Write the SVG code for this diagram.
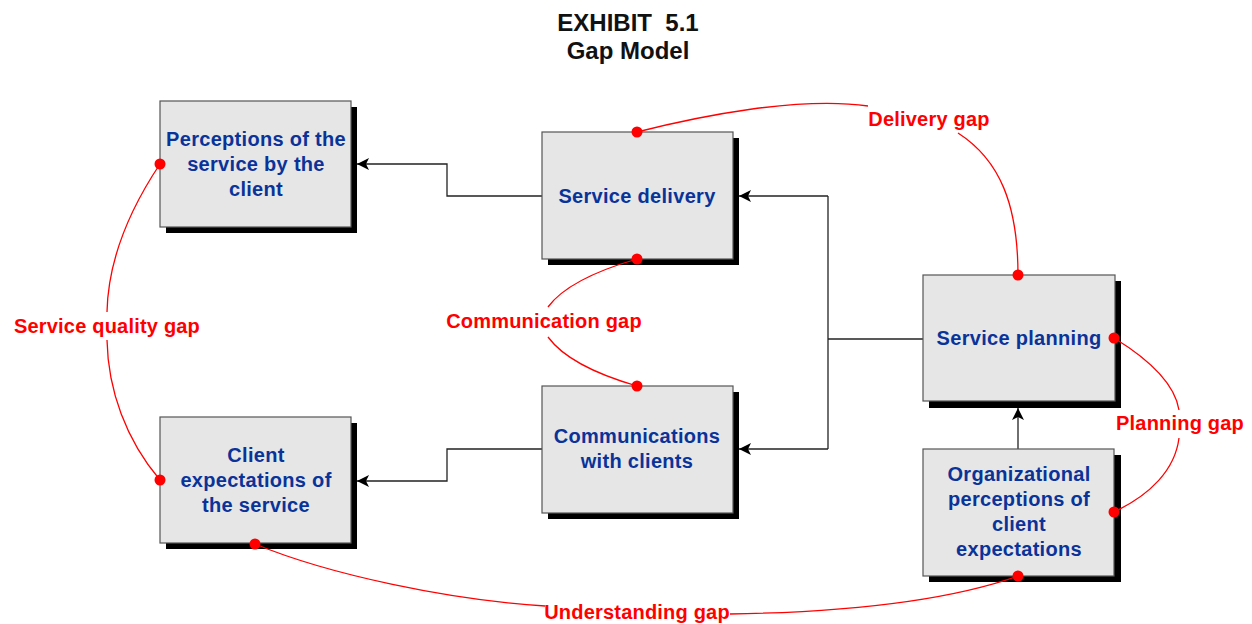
<svg xmlns="http://www.w3.org/2000/svg" width="1252" height="624" viewBox="0 0 1252 624">
  <style>
    .title { font-family: "Liberation Sans", Arial, sans-serif; font-weight: bold; font-size: 24px; fill: #111; text-anchor: middle; }
    .shadow { fill: #000; }
    .box { fill: #e6e6e6; stroke: #555; stroke-width: 1.2; }
    .label { font-family: "Liberation Sans", Arial, sans-serif; font-weight: bold; font-size: 20px; fill: #0a3399; text-anchor: middle; letter-spacing: 0.3px; }
    .flow { fill: none; stroke: #222; stroke-width: 1.3; }
    .gap { fill: none; stroke: #ff0000; stroke-width: 1.3; }
    .dot { fill: #ff0000; }
    .gaptext { font-family: "Liberation Sans", Arial, sans-serif; font-weight: bold; font-size: 20px; fill: #ff0000; text-anchor: middle; letter-spacing: 0.2px; }
  </style>
  <defs>
    <marker id="arrow" viewBox="0 0 12 12" refX="12" refY="6" markerWidth="12" markerHeight="12" markerUnits="userSpaceOnUse" orient="auto">
      <path d="M0,0 L12,6 L0,12 L3,6 z" fill="#000"/>
    </marker>
  </defs>

  <rect width="1252" height="624" fill="#fff"/>

  <!-- heading -->
  <g id="title">
    <text class="title" x="628" y="31" xml:space="preserve">EXHIBIT  5.1</text>
    <text class="title" x="628" y="59">Gap Model</text>
  </g>

  <!-- flow connectors -->
  <g id="connectors">
    <path class="flow" d="M542,196 H447 V164 H357" marker-end="url(#arrow)"/>
    <path class="flow" d="M542,449 H447 V481 H357" marker-end="url(#arrow)"/>
    <path class="flow" d="M923,339 H828"/>
    <path class="flow" d="M828,196 V449"/>
    <path class="flow" d="M828,196 H739" marker-end="url(#arrow)"/>
    <path class="flow" d="M828,449 H739" marker-end="url(#arrow)"/>
    <path class="flow" d="M1018,449 V408" marker-end="url(#arrow)"/>
  </g>

  <!-- nodes -->
  <g id="perceptions">
    <rect class="shadow" x="166" y="107" width="191" height="126"/>
    <rect class="box" x="160" y="101" width="191" height="126"/>
    <text class="label" x="256" y="146">Perceptions of the</text>
    <text class="label" x="256" y="171">service by the</text>
    <text class="label" x="256" y="196">client</text>
  </g>
  <g id="delivery">
    <rect class="shadow" x="548" y="138" width="191" height="127"/>
    <rect class="box" x="542" y="132" width="191" height="127"/>
    <text class="label" x="637" y="203">Service delivery</text>
  </g>
  <g id="communications">
    <rect class="shadow" x="548" y="392" width="191" height="127"/>
    <rect class="box" x="542" y="386" width="191" height="127"/>
    <text class="label" x="637" y="443">Communications</text>
    <text class="label" x="637" y="468">with clients</text>
  </g>
  <g id="expectations">
    <rect class="shadow" x="166" y="423" width="191" height="126"/>
    <rect class="box" x="160" y="417" width="191" height="126"/>
    <text class="label" x="256" y="462">Client</text>
    <text class="label" x="256" y="487">expectations of</text>
    <text class="label" x="256" y="512">the service</text>
  </g>
  <g id="planning">
    <rect class="shadow" x="929" y="281" width="192" height="127"/>
    <rect class="box" x="923" y="275" width="192" height="126"/>
    <text class="label" x="1019" y="345">Service planning</text>
  </g>
  <g id="organizational">
    <rect class="shadow" x="929" y="455" width="192" height="127"/>
    <rect class="box" x="923" y="449" width="191" height="127"/>
    <text class="label" x="1019" y="481">Organizational</text>
    <text class="label" x="1019" y="506">perceptions of</text>
    <text class="label" x="1019" y="531">client</text>
    <text class="label" x="1019" y="556">expectations</text>
  </g>

  <!-- gap curves -->
  <g id="gaps">
    <path class="gap" d="M637,132 C700,116 800,96 868,106"/>
    <path class="gap" d="M958,133 C1000,160 1018,205 1018,275"/>
    <path class="gap" d="M637,259 C592,272 562,288 548,307"/>
    <path class="gap" d="M548,337 C562,356 592,373 637,386"/>
    <path class="gap" d="M160,164 C126,215 108,265 107,312"/>
    <path class="gap" d="M107,340 C108,390 126,440 160,480"/>
    <path class="gap" d="M1114,338 C1150,360 1175,385 1179,410"/>
    <path class="gap" d="M1179,438 C1175,470 1150,495 1114,512"/>
    <path class="gap" d="M255,544 C330,575 450,600 545,606"/>
    <path class="gap" d="M730,614 C850,612 950,600 1018,576"/>
    <circle class="dot" cx="160" cy="164" r="5.5"/>
    <circle class="dot" cx="160" cy="480" r="5.5"/>
    <circle class="dot" cx="255" cy="544" r="5.5"/>
    <circle class="dot" cx="637" cy="132" r="5.5"/>
    <circle class="dot" cx="637" cy="259" r="5.5"/>
    <circle class="dot" cx="637" cy="386" r="5.5"/>
    <circle class="dot" cx="1018" cy="275" r="5.5"/>
    <circle class="dot" cx="1114" cy="338" r="5.5"/>
    <circle class="dot" cx="1114" cy="512" r="5.5"/>
    <circle class="dot" cx="1018" cy="576" r="5.5"/>
    <text class="gaptext" x="929" y="126">Delivery gap</text>
    <text class="gaptext" x="544" y="328">Communication gap</text>
    <text class="gaptext" x="107" y="333">Service quality gap</text>
    <text class="gaptext" x="1180" y="430">Planning gap</text>
    <text class="gaptext" x="637" y="619">Understanding gap</text>
  </g>
</svg>
